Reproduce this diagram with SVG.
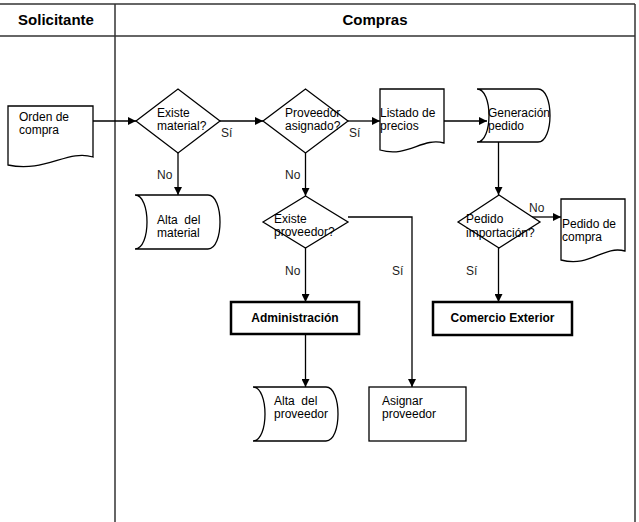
<svg xmlns="http://www.w3.org/2000/svg" width="639" height="522" viewBox="0 0 639 522">
<defs>
<marker id="ah" viewBox="0 0 10 10" refX="10" refY="5" markerWidth="8" markerHeight="8" markerUnits="userSpaceOnUse" orient="auto">
<path d="M0,0 L10,5 L0,10 Z" fill="#000"/>
</marker>
<style>
.frame{stroke:#333;stroke-width:1.5;fill:none}
.shape{fill:#fff;stroke:#000;stroke-width:1.3}
.thick{fill:#fff;stroke:#000;stroke-width:2.5}
.conn{fill:none;stroke:#000;stroke-width:1.3}
.arr{marker-end:url(#ah)}
text{font-family:"Liberation Sans",Arial,sans-serif;fill:#000;white-space:pre}
.t{font-size:12px}
.lbl{font-size:12px;fill:#222}
.hdr{font-size:15px;font-weight:bold}
.b{font-size:12px;font-weight:bold}
</style>
</defs>
<rect width="639" height="522" fill="#fff"/>
<g id="frame">
<line class="frame" x1="0" y1="4" x2="635" y2="4"/>
<line class="frame" x1="0" y1="36" x2="635" y2="36"/>
<line class="frame" x1="115" y1="4" x2="115" y2="522"/>
<line class="frame" x1="635" y1="4" x2="635" y2="522"/>
<text class="hdr" x="56" y="25" text-anchor="middle">Solicitante</text>
<text class="hdr" x="375" y="25" text-anchor="middle">Compras</text>
</g>
<g id="connectors">
<line class="conn arr" x1="93" y1="121" x2="136" y2="121"/>
<line class="conn arr" x1="220" y1="121" x2="263" y2="121"/>
<line class="conn arr" x1="348" y1="121" x2="380" y2="121"/>
<line class="conn arr" x1="444" y1="121" x2="487" y2="121"/>
<line class="conn arr" x1="178" y1="153" x2="178" y2="195"/>
<line class="conn arr" x1="305.5" y1="153" x2="305.5" y2="196"/>
<line class="conn arr" x1="305.5" y1="248" x2="305.5" y2="302"/>
<line class="conn arr" x1="305.5" y1="334" x2="305.5" y2="387"/>
<polyline class="conn arr" points="348,217 412,217 412,387"/>
<line class="conn arr" x1="498.5" y1="142" x2="498.5" y2="195"/>
<line class="conn arr" x1="530" y1="217" x2="561" y2="217"/>
<line class="conn arr" x1="498.5" y1="248" x2="498.5" y2="302"/>
<text class="lbl" x="221" y="137">Sí</text>
<text class="lbl" x="349" y="137">Sí</text>
<text class="lbl" x="157" y="179">No</text>
<text class="lbl" x="285" y="179">No</text>
<text class="lbl" x="285" y="275">No</text>
<text class="lbl" x="392" y="275">Sí</text>
<text class="lbl" x="529" y="212">No</text>
<text class="lbl" x="466" y="275">Sí</text>
</g>
<g id="orden-compra">
<path class="shape" d="M8,106 H93 V157 C68,149 45,173 8,165 Z"/>
<text class="t" x="19" y="121">Orden de</text>
<text class="t" x="19" y="134">compra</text>
</g>
<g id="existe-material">
<polygon class="shape" points="136,121 178,89 220,121 178,153"/>
<text class="t" x="157" y="117">Existe</text>
<text class="t" x="157" y="130">material?</text>
</g>
<g id="proveedor-asignado">
<polygon class="shape" points="263,121 305.5,89 348,121 305.5,153"/>
<text class="t" x="285" y="117">Proveedor</text>
<text class="t" x="285" y="130">asignado?</text>
</g>
<g id="listado-precios">
<path class="shape" d="M380,89 H444 V143 C422,137 408,158 380,150 Z"/>
<text class="t" x="380" y="117">Listado de</text>
<text class="t" x="380" y="130">precios</text>
</g>
<g id="generacion-pedido">
<path class="shape" d="M477,89 H538 C554,89 554,142 538,142 H477 C493,142 493,89 477,89 Z"/>
<text class="t" x="488" y="117">Generación</text>
<text class="t" x="488" y="130">pedido</text>
</g>
<g id="alta-material">
<path class="shape" d="M135,195 H208 C224,195 224,249 208,249 H135 C151,249 151,195 135,195 Z"/>
<text class="t" x="157" y="224" xml:space="preserve">Alta  del</text>
<text class="t" x="157" y="237">material</text>
</g>
<g id="existe-proveedor">
<polygon class="shape" points="263,222 305.5,196 348,222 305.5,248"/>
<text class="t" x="274" y="223">Existe</text>
<text class="t" x="274" y="236">proveedor?</text>
</g>
<g id="pedido-importacion">
<polygon class="shape" points="458,222 499,195 540,222 499,248"/>
<text class="t" x="466" y="223">Pedido</text>
<text class="t" x="466" y="237">importación?</text>
</g>
<g id="pedido-compra">
<path class="shape" d="M561,199 H625 V251 C603,245 590,268 561,260 Z"/>
<text class="t" x="562" y="228">Pedido de</text>
<text class="t" x="562" y="241">compra</text>
</g>
<g id="administracion">
<rect class="thick" x="231" y="302" width="128" height="32"/>
<text class="b" x="295" y="322" text-anchor="middle">Administración</text>
</g>
<g id="comercio-exterior">
<rect class="thick" x="433" y="302" width="139" height="33"/>
<text class="b" x="502.5" y="322" text-anchor="middle">Comercio Exterior</text>
</g>
<g id="alta-proveedor">
<path class="shape" d="M253,387 H326 C342,387 342,441 326,441 H253 C269,441 269,387 253,387 Z"/>
<text class="t" x="274" y="405" xml:space="preserve">Alta  del</text>
<text class="t" x="274" y="418">proveedor</text>
</g>
<g id="asignar-proveedor">
<rect class="shape" x="369" y="387" width="97" height="54"/>
<text class="t" x="382" y="405">Asignar</text>
<text class="t" x="382" y="418">proveedor</text>
</g>
</svg>
